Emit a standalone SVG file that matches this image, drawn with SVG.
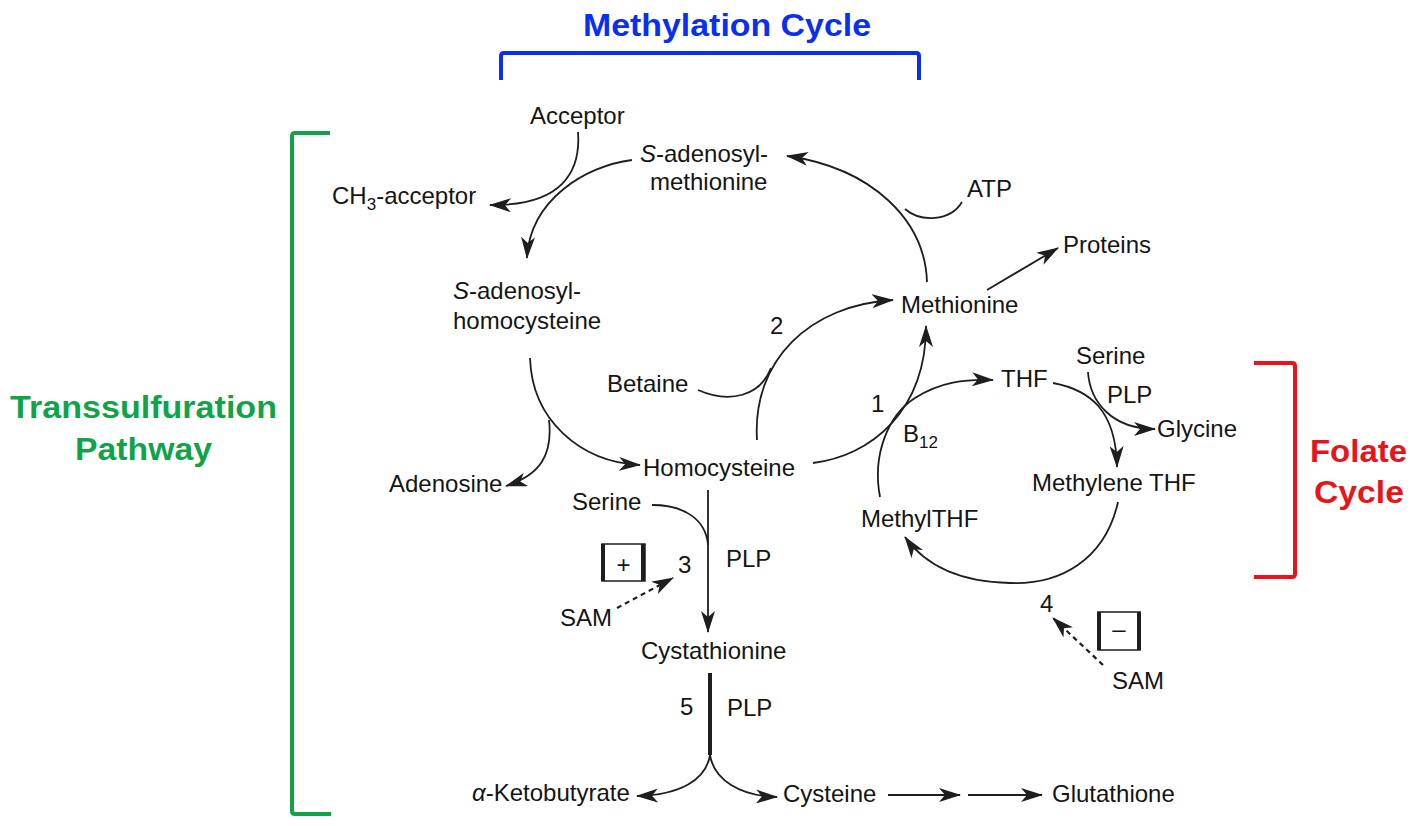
<svg xmlns="http://www.w3.org/2000/svg" width="1418" height="826" viewBox="0 0 1418 826">
<defs>
<style>
.t{font-family:"Liberation Sans",Arial,sans-serif;font-size:24px;fill:#151515}
.c{fill:none;stroke:#1e1e1e;stroke-width:1.8}
.d{fill:none;stroke:#1e1e1e;stroke-width:2.2;stroke-dasharray:5 4}
.h{font-family:"Liberation Sans",Arial,sans-serif;font-weight:bold;font-size:31px}
</style>
<marker id="ah" viewBox="0 0 22 14" refX="21" refY="7" markerWidth="22" markerHeight="14" markerUnits="userSpaceOnUse" orient="auto"><path d="M0,0 L22,7 L0,14 L6,7 z" fill="#1e1e1e"/></marker>
</defs>
<rect width="1418" height="826" fill="#fff"/>

<g id="brackets">
<path d="M501,80 V56 Q501,53 504,53 H916 Q919,53 919,56 V80" fill="none" stroke="#0a2ff0" stroke-width="4"/>
<text class="h" x="583" y="36" fill="#0a2ff0" textLength="288" lengthAdjust="spacingAndGlyphs">Methylation Cycle</text>
<path d="M330,133 H295 Q292,133 292,136 V811 Q292,814 295,814 H331" fill="none" stroke="#12a34a" stroke-width="4"/>
<text class="h" x="10" y="418" fill="#12a34a" textLength="267" lengthAdjust="spacingAndGlyphs">Transsulfuration</text>
<text class="h" x="75" y="460" fill="#12a34a" textLength="137" lengthAdjust="spacingAndGlyphs">Pathway</text>
<path d="M1254,363 H1292 Q1295,363 1295,366 V574 Q1295,577 1292,577 H1254" fill="none" stroke="#e8141c" stroke-width="4"/>
<text class="h" x="1310" y="462" fill="#e8141c" textLength="97" lengthAdjust="spacingAndGlyphs">Folate</text>
<text class="h" x="1314" y="503" fill="#e8141c" textLength="90" lengthAdjust="spacingAndGlyphs">Cycle</text>
</g>

<g id="connectors">
<path class="c" d="M632,160 C585,166 530,200 527,258" marker-end="url(#ah)"/>
<path class="c" d="M578,132 C581,172 562,206 490,205" marker-end="url(#ah)"/>
<path class="c" d="M927,282 C925,220 872,168 787,156" marker-end="url(#ah)"/>
<path class="c" d="M962,202 C950,222 920,222 905,209"/>
<path class="c" d="M987,290 L1058,248" marker-end="url(#ah)"/>
<path class="c" d="M530,358 C532,420 580,462 640,465" marker-end="url(#ah)"/>
<path class="c" d="M549,420 C553,455 540,475 506,486" marker-end="url(#ah)"/>
<path class="c" d="M757,440 C752,360 810,305 893,300" marker-end="url(#ah)"/>
<path class="c" d="M698,390 C730,404 760,396 771,368"/>
<path class="c" d="M813,463 C870,456 926,412 926,326" marker-end="url(#ah)"/>
<path class="c" d="M880,497 C872,455 888,415 915,398 C940,382 965,379 993,380" marker-end="url(#ah)"/>
<path class="c" d="M1053,383 C1090,390 1116,410 1117,467" marker-end="url(#ah)"/>
<path class="c" d="M1088,372 C1090,402 1112,429 1155,429" marker-end="url(#ah)"/>
<path class="c" d="M1118,502 C1105,560 1060,585 1010,583 C960,582 925,565 905,537" marker-end="url(#ah)"/>
<path class="c" d="M708,490 V632" marker-end="url(#ah)"/>
<path class="c" d="M652,505 C685,505 706,520 708,545"/>
<path class="d" d="M617,608 L673,578" marker-end="url(#ah)"/>
<path class="d" d="M1103,665 L1053,618" marker-end="url(#ah)"/>
<path fill="none" stroke="#1e1e1e" stroke-width="4" d="M710,673 V755"/>
<path class="c" d="M710,755 C706,780 680,795 637,796" marker-end="url(#ah)"/>
<path class="c" d="M710,755 C714,780 740,796 777,797" marker-end="url(#ah)"/>
<path class="c" d="M888,795 H960" marker-end="url(#ah)"/>
<path class="c" d="M968,795 H1042" marker-end="url(#ah)"/>
</g>

<g id="n-acceptor"><text class="t" x="530" y="124">Acceptor</text></g>
<g id="n-sam"><text class="t" x="640" y="162"><tspan font-style="italic">S</tspan>-adenosyl-</text><text class="t" x="650" y="190">methionine</text></g>
<g id="n-ch3"><text class="t" x="332" y="204">CH<tspan font-size="17" dy="6">3</tspan><tspan dy="-6">-acceptor</tspan></text></g>
<g id="n-atp"><text class="t" x="967" y="197">ATP</text></g>
<g id="n-proteins"><text class="t" x="1063" y="253">Proteins</text></g>
<g id="n-methionine"><text class="t" x="901" y="313">Methionine</text></g>
<g id="n-sah"><text class="t" x="453" y="299"><tspan font-style="italic">S</tspan>-adenosyl-</text><text class="t" x="453" y="329">homocysteine</text></g>
<g id="n-2"><text class="t" x="770" y="334">2</text></g>
<g id="n-betaine"><text class="t" x="607" y="392">Betaine</text></g>
<g id="n-serine-r"><text class="t" x="1076" y="364">Serine</text></g>
<g id="n-thf"><text class="t" x="1001" y="387">THF</text></g>
<g id="n-plp-r"><text class="t" x="1107" y="403">PLP</text></g>
<g id="n-1"><text class="t" x="871" y="412">1</text></g>
<g id="n-b12"><text class="t" x="903" y="442">B<tspan font-size="17" dy="6">12</tspan></text></g>
<g id="n-glycine"><text class="t" x="1157" y="437">Glycine</text></g>
<g id="n-homocysteine"><text class="t" x="643" y="476">Homocysteine</text></g>
<g id="n-adenosine"><text class="t" x="389" y="492">Adenosine</text></g>
<g id="n-methylenethf"><text class="t" x="1032" y="491">Methylene THF</text></g>
<g id="n-serine-l"><text class="t" x="572" y="510">Serine</text></g>
<g id="n-methylthf"><text class="t" x="861" y="527">MethylTHF</text></g>
<g id="n-plp-m"><text class="t" x="726" y="567">PLP</text></g>
<g id="n-3"><text class="t" x="678" y="573">3</text></g>
<g id="n-plus"><rect x="602" y="544" width="43" height="37" fill="none" stroke="#1e1e1e" stroke-width="1.5"/><rect x="601" y="544" width="4" height="37" fill="#1e1e1e"/><rect x="641" y="544" width="4" height="37" fill="#1e1e1e"/><text class="t" x="623.5" y="573" text-anchor="middle" font-size="32">+</text></g>
<g id="n-sam-l"><text class="t" x="560" y="626">SAM</text></g>
<g id="n-cystathionine"><text class="t" x="641" y="659">Cystathionine</text></g>
<g id="n-4"><text class="t" x="1040" y="612">4</text></g>
<g id="n-minus"><rect x="1098" y="612" width="42" height="38" fill="none" stroke="#1e1e1e" stroke-width="1.5"/><rect x="1097" y="612" width="4" height="38" fill="#1e1e1e"/><rect x="1137" y="612" width="4" height="38" fill="#1e1e1e"/><text class="t" x="1119" y="637" text-anchor="middle" font-size="20">–</text></g>
<g id="n-sam-r"><text class="t" x="1112" y="689">SAM</text></g>
<g id="n-5"><text class="t" x="680" y="715">5</text></g>
<g id="n-plp-b"><text class="t" x="727" y="716">PLP</text></g>
<g id="n-ketobutyrate"><text class="t" x="472" y="801"><tspan font-style="italic">α</tspan>-Ketobutyrate</text></g>
<g id="n-cysteine"><text class="t" x="783" y="802">Cysteine</text></g>
<g id="n-glutathione"><text class="t" x="1052" y="802">Glutathione</text></g>
</svg>
